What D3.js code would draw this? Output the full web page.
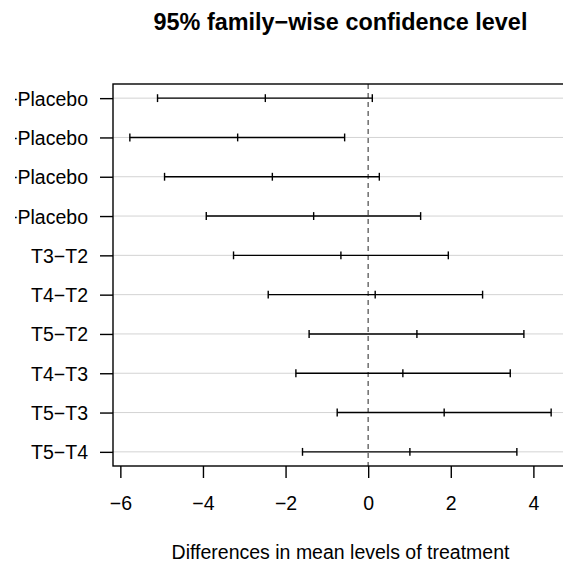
<!DOCTYPE html>
<html>
<head>
<meta charset="utf-8">
<script src="https://cdn.jsdelivr.net/npm/d3@7"></script>
<style>
  body { margin: 0; background: #fff; }
  svg { display: block; font-family: "Liberation Sans", Arial, sans-serif; }
</style>
</head>
<body>
<div id="chart"></div>
<script>
// Tukey HSD comparisons, top to bottom
const comparisons = ["T2−Placebo", "T3−Placebo", "T4−Placebo", "T5−Placebo",
    "T3−T2", "T4−T2", "T5−T2", "T4−T3", "T5−T3", "T5−T4"];
const diff = [-2.49, -3.16, -2.32, -1.32, -0.66, 0.17, 1.18, 0.84, 1.84, 1.01];
const lwr  = [-5.10, -5.77, -4.93, -3.92, -3.26, -2.42, -1.43, -1.75, -0.75, -1.59];
const upr  = [0.10, -0.57, 0.27, 1.27, 1.94, 2.77, 3.77, 3.44, 4.43, 3.60];
const xTicks = [-6, -4, -2, 0, 2, 4];

const W = 563, H = 563;
// plot region (right edge runs just past the window, like the original)
const margin = {top: 84, right: -5, bottom: 97, left: 113};

const svg = d3.select("#chart")
    .append("svg")
    .attr("width", W)
    .attr("height", H);

const rows = comparisons.map((c, i) => ({
    name: c, diff: diff[i], lwr: lwr[i], upr: upr[i], y: comparisons.length - i
}));

// R style 4% padding on both axes
const ext = [d3.min(lwr), d3.max(upr)];
const pad = (ext[1] - ext[0]) * 0.04;
const x = d3.scaleLinear()
    .domain([ext[0] - pad, ext[1] + pad])
    .range([margin.left, W - margin.right]);

const n = comparisons.length;
const ypad = (n - 1) * 0.04;
const y = d3.scaleLinear()
    .domain([1 - ypad, n + ypad])
    .range([H - margin.bottom, margin.top]);

// light grey guide lines at each comparison
svg.append("g")
    .selectAll("line")
    .data(rows)
    .join("line")
    .attr("x1", margin.left)
    .attr("x2", W)
    .attr("y1", d => y(d.y))
    .attr("y2", d => y(d.y))
    .style("stroke", "#d3d3d3")
    .style("stroke-width", 1);

// dashed line at zero
svg.append("line")
    .attr("x1", x(0)).attr("x2", x(0))
    .attr("y1", margin.top).attr("y2", H - margin.bottom)
    .style("stroke", "#6e6e6e")
    .style("stroke-width", 1.5)
    .style("stroke-dasharray", "5,4");

// intervals
const ci = svg.append("g")
    .style("stroke", "#000")
    .style("stroke-width", 1.4);

ci.selectAll("line.seg")
    .data(rows)
    .join("line")
    .attr("class", "seg")
    .attr("x1", d => x(d.lwr))
    .attr("x2", d => x(d.upr))
    .attr("y1", d => y(d.y))
    .attr("y2", d => y(d.y));

const caps = rows.flatMap(d => [d.lwr, d.diff, d.upr].map(v => ({v: v, y: d.y})));
ci.selectAll("line.cap")
    .data(caps)
    .join("line")
    .attr("class", "cap")
    .attr("x1", d => x(d.v))
    .attr("x2", d => x(d.v))
    .attr("y1", d => y(d.y - 0.1))
    .attr("y2", d => y(d.y + 0.1));

// box
svg.append("rect")
    .attr("x", margin.left)
    .attr("y", margin.top)
    .attr("width", x.range()[1] - margin.left)
    .attr("height", H - margin.bottom - margin.top)
    .style("fill", "none")
    .style("stroke", "#000")
    .style("stroke-width", 1.4);

// x axis
const xAxis = svg.append("g")
    .attr("transform", `translate(0, ${H - margin.bottom})`)
    .call(d3.axisBottom(x).tickValues(xTicks).tickSize(12).tickPadding(18).tickSizeOuter(0));
xAxis.select(".domain").remove();
xAxis.selectAll("line").style("stroke-width", 1.4);
xAxis.selectAll("text")
    .style("font-size", "19.5px")
    .style("font-family", "Liberation Sans, Arial, sans-serif")
    .attr("dy", "0.72em");

// the original device cuts the long labels off at the left edge
svg.append("clipPath")
    .attr("id", "labelclip")
    .append("rect")
    .attr("x", 15 - margin.left)
    .attr("y", 0)
    .attr("width", W)
    .attr("height", H);

// y axis
const yAxis = svg.append("g")
    .attr("transform", `translate(${margin.left}, 0)`)
    .attr("clip-path", "url(#labelclip)")
    .call(d3.axisLeft(y).tickValues(rows.map(d => d.y))
        .tickFormat((d, i) => rows[i].name)
        .tickSize(13).tickPadding(12).tickSizeOuter(0));
yAxis.select(".domain").remove();
yAxis.selectAll("line").style("stroke-width", 1.4);
yAxis.selectAll("text")
    .style("font-size", "19.5px")
    .style("font-family", "Liberation Sans, Arial, sans-serif")
    .attr("dy", "0.36em");

// title and axis label
svg.append("text")
    .attr("x", (margin.left + x.range()[1]) / 2)
    .attr("y", 30)
    .attr("text-anchor", "middle")
    .style("font-size", "23.4px")
    .style("font-weight", "bold")
    .text("95% family−wise confidence level");

svg.append("text")
    .attr("x", (margin.left + x.range()[1]) / 2)
    .attr("y", 559)
    .attr("text-anchor", "middle")
    .style("font-size", "19.5px")
    .text("Differences in mean levels of treatment");
</script>
</body>
</html>
